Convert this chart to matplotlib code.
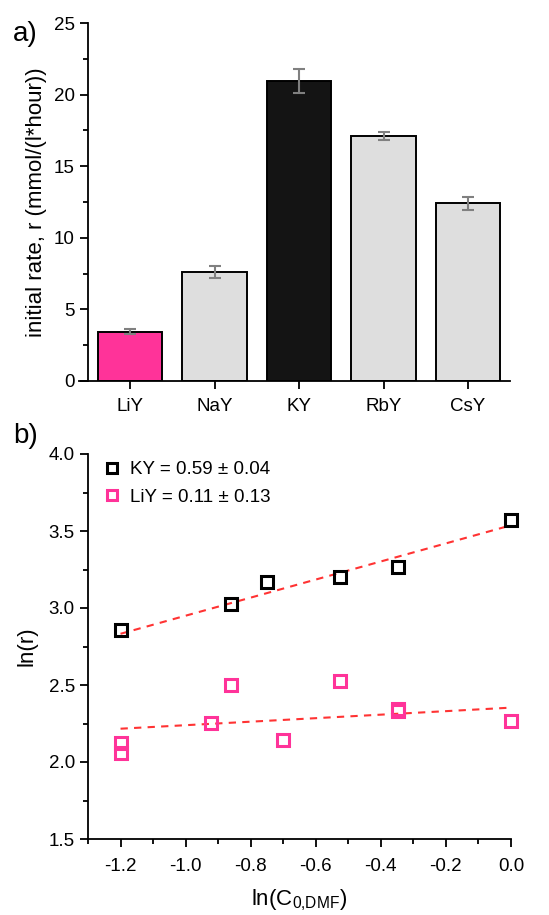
import numpy as np
import matplotlib.pyplot as plt
from matplotlib.ticker import MultipleLocator

plt.rcParams["font.family"] = ["Liberation Sans", "DejaVu Sans"]

# panel a) data
catalysts = ["LiY", "NaY", "KY", "RbY", "CsY"]
rates = [3.45, 7.6, 20.95, 17.1, 12.4]
rate_err = [0.17, 0.43, 0.84, 0.3, 0.44]
bar_colors = ["#ff3399", "#dedede", "#141414", "#dedede", "#dedede"]

# panel b) data
ky_x = [-1.2, -0.862, -0.751, -0.526, -0.348, 0.0]
ky_y = [2.86, 3.024, 3.169, 3.201, 3.266, 3.571]
liy_x = [-1.2, -1.2, -0.921, -0.862, -0.70, -0.526, -0.348, -0.348, 0.0]
liy_y = [2.123, 2.058, 2.255, 2.498, 2.145, 2.526, 2.346, 2.331, 2.266]
ky_fit = (0.587, 3.537)   # slope, intercept
liy_fit = (0.114, 2.353)
fit_x = [-1.2, 0.0]

fig = plt.figure(figsize=(5.49, 9.15), dpi=100)

## a) bar chart
ax = fig.add_axes([79.3 / 549, 1 - 381 / 915, (510.3 - 79.3) / 549, (381 - 23) / 915])
x = np.arange(len(catalysts))
ax.bar(x, rates, width=0.76, color=bar_colors, edgecolor="black", linewidth=1.4, zorder=2)
ax.errorbar(x, rates, yerr=rate_err, fmt="none", ecolor="#808080", elinewidth=1.5,
            capsize=4, capthick=1.5, zorder=3)
ax.set_xlim(-0.6, 4.5)
ax.set_ylim(0, 25)
ax.spines["left"].set_position(("data", -0.5))
ax.spines[["top", "right"]].set_visible(False)
ax.spines[["left", "bottom"]].set_linewidth(1.3)
ax.set_xticks(x)
ax.set_xticklabels(catalysts)
ax.yaxis.set_major_locator(MultipleLocator(5))
ax.yaxis.set_minor_locator(MultipleLocator(2.5))
ax.tick_params(axis="both", which="major", length=6, width=1.3, labelsize=13.5, direction="out")
ax.tick_params(axis="y", which="minor", length=3.5, width=1.3, direction="out")
ax.tick_params(axis="x", pad=6)
ax.set_ylabel("initial rate, r (mmol/(l*hour))", fontsize=16, labelpad=5)
fig.text(13 / 549, 1 - 34 / 915, "a)", fontsize=20, va="center", ha="left")

## b) log-log plot
ax = fig.add_axes([88 / 549, 1 - 839 / 915, (511 - 88) / 549, (839 - 454) / 915])
ax.plot(fit_x, [ky_fit[0] * v + ky_fit[1] for v in fit_x], ls=(0, (3.5, 3)),
        color="#ff3333", lw=1.5, zorder=2)
ax.plot(fit_x, [liy_fit[0] * v + liy_fit[1] for v in fit_x], ls=(0, (3.5, 3)),
        color="#ff3333", lw=1.5, zorder=2)
ax.plot(ky_x, ky_y, ls="none", marker="s", ms=8, mfc="none", mec="black", mew=2.2,
        clip_on=False, zorder=3, label="KY = 0.59 ± 0.04")
ax.plot(liy_x, liy_y, ls="none", marker="s", ms=8, mfc="none", mec="#ff3399", mew=2.2,
        clip_on=False, zorder=3, label="LiY = 0.11 ± 0.13")
ax.set_xlim(-1.3, 0.0)
ax.set_ylim(1.5, 4.0)
ax.spines[["top", "right"]].set_visible(False)
ax.spines[["left", "bottom"]].set_linewidth(1.3)
ax.xaxis.set_major_locator(MultipleLocator(0.2))
ax.xaxis.set_minor_locator(MultipleLocator(0.1))
ax.yaxis.set_major_locator(MultipleLocator(0.5))
ax.yaxis.set_minor_locator(MultipleLocator(0.25))
ax.set_xticks(np.arange(-1.2, 0.01, 0.2))
ax.set_xticklabels(["-1.2", "-1.0", "-0.8", "-0.6", "-0.4", "-0.2", "0.0"])
ax.tick_params(axis="both", which="major", length=6, width=1.3, labelsize=13.5, direction="out")
ax.tick_params(axis="both", which="minor", length=3.5, width=1.3, direction="out")
ax.tick_params(axis="x", pad=8)
ax.set_xlabel("ln(C$_{\\mathregular{0{,}DMF}}$)", fontsize=16, labelpad=9)
ax.set_ylabel("ln(r)", fontsize=16, labelpad=8)
ax.legend(loc="upper left", bbox_to_anchor=(0.0, 1.025), frameon=False, fontsize=13.5,
          handlelength=0.8, handletextpad=0.55, labelspacing=0.55, markerscale=0.9)
fig.text(13 / 549, 1 - 436 / 915, "b)", fontsize=20, va="center", ha="left")

plt.savefig("out.png", dpi=100)
